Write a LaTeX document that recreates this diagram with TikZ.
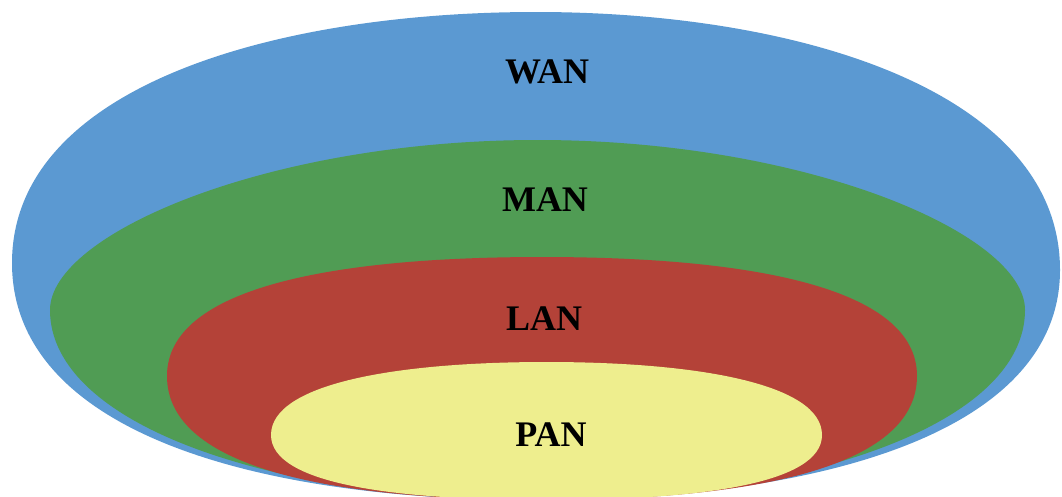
\documentclass[tikz,border=0pt]{standalone}
\usepackage{fontspec}
\setmainfont{Liberation Serif}
\definecolor{wanblue}{RGB}{91,153,210}
\definecolor{mangreen}{RGB}{80,156,84}
\definecolor{lanred}{RGB}{180,66,56}
\definecolor{panyellow}{RGB}{238,238,142}
\begin{document}
\begin{tikzpicture}[x=1pt,y=-1pt,
  netlabel/.style={font=\fontsize{36}{36}\selectfont\bfseries,inner sep=0pt,anchor=base,text=black}]
\useasboundingbox (0,0) rectangle (1062,496);
\clip (0,0) rectangle (1062,496);
% each zone: left, top, right and bottom points joined by four cubic quadrants
% WAN
\fill[wanblue] (12,263)
  .. controls (12,87) and (274,12) .. (536,12)
  .. controls (798,12) and (1060,91) .. (1060,270)
  .. controls (1060,431) and (824,500) .. (536,500)
  .. controls (248,500) and (12,429) .. cycle;
% MAN
\fill[mangreen] (50,310)
  .. controls (50,233.5) and (269.4,140) .. (537.5,140)
  .. controls (805.6,140) and (1025,233.5) .. (1025,310)
  .. controls (1025,424) and (805.6,500) .. (537.5,500)
  .. controls (269.4,500) and (50,424) .. cycle;
% LAN
\fill[lanred] (167,376)
  .. controls (167,286.75) and (335.75,257) .. (542,257)
  .. controls (748.25,257) and (917,286.75) .. (917,376)
  .. controls (917,469) and (748.25,500) .. (542,500)
  .. controls (335.75,500) and (167,469) .. cycle;
% PAN
\fill[panyellow] (271,435)
  .. controls (271,383.9) and (395,362) .. (546.5,362)
  .. controls (698,362) and (822,383.9) .. (822,435)
  .. controls (822,484) and (698,500) .. (546.5,500)
  .. controls (395,500) and (271,484) .. cycle;
\node[netlabel] (wan) at (547,83) {WAN};
\node[netlabel] (man) at (545,211) {MAN};
\node[netlabel] (lan) at (544,330) {LAN};
\node[netlabel] (pan) at (551,446) {PAN};
\end{tikzpicture}
\end{document}
